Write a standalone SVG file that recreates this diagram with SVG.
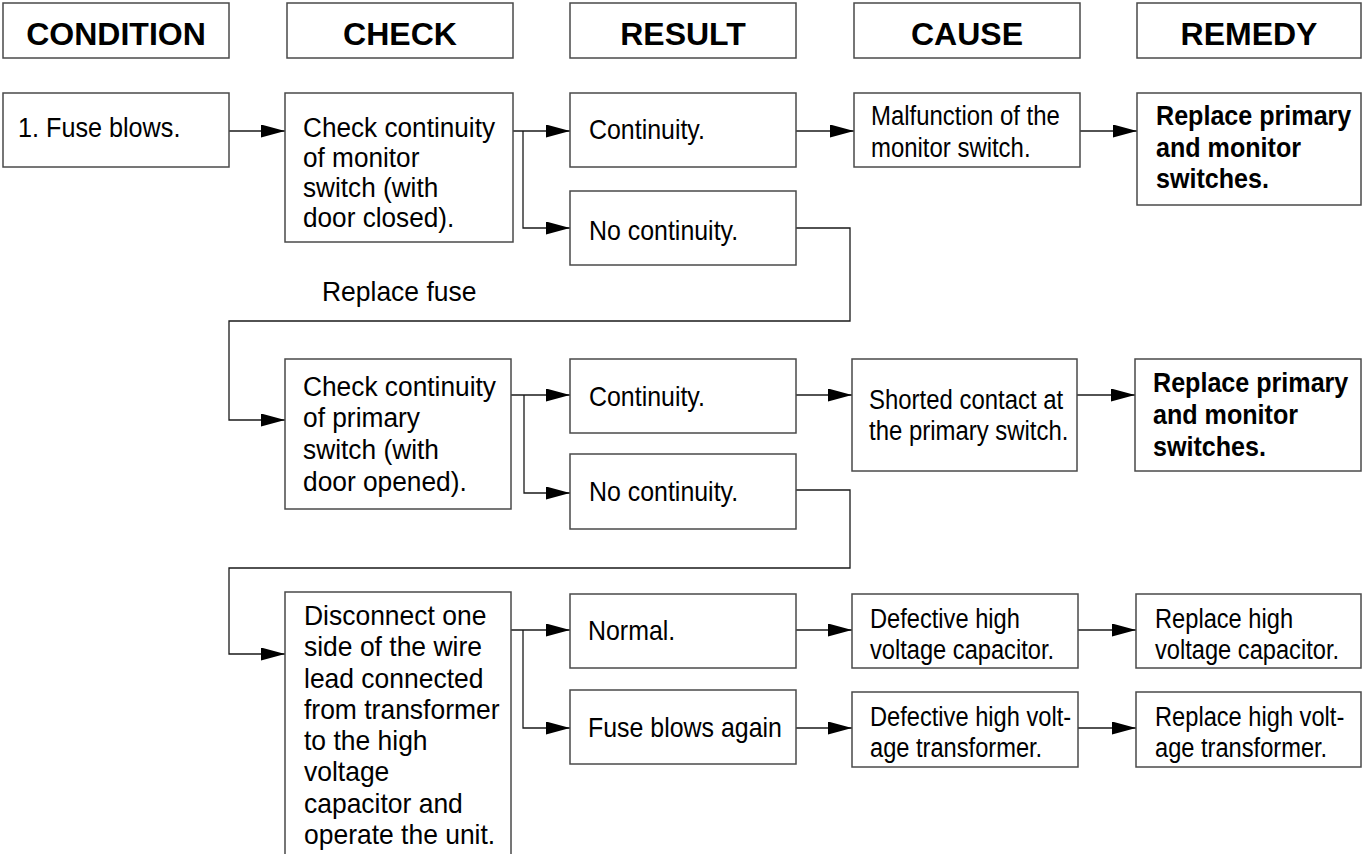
<svg xmlns="http://www.w3.org/2000/svg" width="1364" height="854" viewBox="0 0 1364 854">
<style>
.bx{fill:#fff;stroke:#4a4a4a;stroke-width:1.5}
.h{font-family:"Liberation Sans",Arial,Helvetica,sans-serif;font-size:32px;font-weight:bold;fill:#000;text-anchor:middle}
.t{font-family:"Liberation Sans",Arial,Helvetica,sans-serif;font-size:28px;fill:#000}
.b{font-family:"Liberation Sans",Arial,Helvetica,sans-serif;font-size:27px;font-weight:bold;fill:#000}
.c{fill:none;stroke:#1a1a1a;stroke-width:1.3}
.a{marker-end:url(#ah)}
</style>
<defs>
<marker id="ah" viewBox="0 0 24 13" refX="24" refY="6.5" markerWidth="24" markerHeight="13" markerUnits="userSpaceOnUse" orient="auto">
<path d="M0,0 L24,6.5 L0,13 Z" fill="#000"/>
</marker>
</defs>
<rect width="1364" height="854" fill="#fff"/>

<g id="headers">
<g id="h-condition"><rect class="bx" x="3" y="3" width="226" height="55"/><text class="h" x="116" y="45">CONDITION</text></g>
<g id="h-check"><rect class="bx" x="287" y="3" width="226" height="55"/><text class="h" x="400" y="45">CHECK</text></g>
<g id="h-result"><rect class="bx" x="570" y="3" width="226" height="55"/><text class="h" x="683" y="45">RESULT</text></g>
<g id="h-cause"><rect class="bx" x="854" y="3" width="226" height="55"/><text class="h" x="967" y="45">CAUSE</text></g>
<g id="h-remedy"><rect class="bx" x="1137" y="3" width="224" height="55"/><text class="h" x="1249" y="45">REMEDY</text></g>
</g>

<g id="connectors">
<path class="c a" d="M229,131 H285"/>
<path class="c a" d="M513,131 H570"/>
<path class="c a" d="M523,131 V228 H570"/>
<path class="c a" d="M796,131 H854"/>
<path class="c a" d="M1080,131 H1137"/>
<path class="c a" d="M796,228 H850 V321 H229 V420 H285"/>
<path class="c a" d="M511,395 H570"/>
<path class="c a" d="M524,395 V493 H570"/>
<path class="c a" d="M796,395 H852"/>
<path class="c a" d="M1077,395 H1135"/>
<path class="c a" d="M796,490 H850 V568 H229 V654 H285"/>
<path class="c a" d="M511,630 H570"/>
<path class="c a" d="M523,630 V728 H570"/>
<path class="c a" d="M796,630 H852"/>
<path class="c a" d="M1078,630 H1136"/>
<path class="c a" d="M796,728 H852"/>
<path class="c a" d="M1078,728 H1136"/>
</g>

<g id="replace-fuse-label"><text class="t" style="font-size:27px" transform="translate(322 0) scale(0.98 1)"><tspan x="0" y="301">Replace fuse</tspan></text></g>

<g id="n-fuse-blows"><rect class="bx" x="3" y="93" width="226" height="74"/><text class="t" transform="translate(18 0) scale(0.9 1)"><tspan x="0" y="137">1. Fuse blows.</tspan></text></g>

<g id="n-check-monitor"><rect class="bx" x="285" y="93" width="228" height="149"/><text class="t" style="font-size:27px" transform="translate(303 0) scale(0.97 1)"><tspan x="0" y="137">Check continuity</tspan><tspan x="0" y="167">of monitor</tspan><tspan x="0" y="197">switch (with</tspan><tspan x="0" y="227">door closed).</tspan></text></g>

<g id="n-continuity-1"><rect class="bx" x="570" y="93" width="226" height="74"/><text class="t" transform="translate(589 0) scale(0.89 1)"><tspan x="0" y="139">Continuity.</tspan></text></g>

<g id="n-nocontinuity-1"><rect class="bx" x="570" y="191" width="226" height="74"/><text class="t" transform="translate(589 0) scale(0.89 1)"><tspan x="0" y="240">No continuity.</tspan></text></g>

<g id="n-malfunction"><rect class="bx" x="854" y="93" width="226" height="74"/><text class="t" transform="translate(871 0) scale(0.855 1)"><tspan x="0" y="125">Malfunction of the</tspan><tspan x="0" y="157">monitor switch.</tspan></text></g>

<g id="n-remedy-1"><rect class="bx" x="1137" y="93" width="224" height="112"/><text class="b" transform="translate(1156 0) scale(0.93 1)"><tspan x="0" y="125">Replace primary</tspan><tspan x="0" y="157">and monitor</tspan><tspan x="0" y="188">switches.</tspan></text></g>

<g id="n-check-primary"><rect class="bx" x="285" y="359" width="226" height="150"/><text class="t" transform="translate(303 0) scale(0.94 1)"><tspan x="0" y="396">Check continuity</tspan><tspan x="0" y="427">of primary</tspan><tspan x="0" y="459">switch (with</tspan><tspan x="0" y="491">door opened).</tspan></text></g>

<g id="n-continuity-2"><rect class="bx" x="570" y="359" width="226" height="74"/><text class="t" transform="translate(589 0) scale(0.89 1)"><tspan x="0" y="406">Continuity.</tspan></text></g>

<g id="n-nocontinuity-2"><rect class="bx" x="570" y="454" width="226" height="75"/><text class="t" transform="translate(589 0) scale(0.89 1)"><tspan x="0" y="501">No continuity.</tspan></text></g>

<g id="n-shorted"><rect class="bx" x="852" y="359" width="225" height="112"/><text class="t" transform="translate(869 0) scale(0.855 1)"><tspan x="0" y="409">Shorted contact at</tspan><tspan x="0" y="440">the primary switch.</tspan></text></g>

<g id="n-remedy-2"><rect class="bx" x="1135" y="359" width="226" height="112"/><text class="b" transform="translate(1153 0) scale(0.93 1)"><tspan x="0" y="392">Replace primary</tspan><tspan x="0" y="424">and monitor</tspan><tspan x="0" y="456">switches.</tspan></text></g>

<g id="n-disconnect"><rect class="bx" x="285" y="592" width="226" height="280"/><text class="t" transform="translate(304 0) scale(0.945 1)"><tspan x="0" y="625">Disconnect one</tspan><tspan x="0" y="656">side of the wire</tspan><tspan x="0" y="688">lead connected</tspan><tspan x="0" y="719">from transformer</tspan><tspan x="0" y="750">to the high</tspan><tspan x="0" y="781">voltage</tspan><tspan x="0" y="813">capacitor and</tspan><tspan x="0" y="844">operate the unit.</tspan></text></g>

<g id="n-normal"><rect class="bx" x="570" y="594" width="226" height="74"/><text class="t" transform="translate(588 0) scale(0.89 1)"><tspan x="0" y="640">Normal.</tspan></text></g>

<g id="n-fuse-again"><rect class="bx" x="570" y="690" width="226" height="74"/><text class="t" transform="translate(588 0) scale(0.89 1)"><tspan x="0" y="737">Fuse blows again</tspan></text></g>

<g id="n-def-capacitor"><rect class="bx" x="852" y="594" width="226" height="74"/><text class="t" transform="translate(870 0) scale(0.845 1)"><tspan x="0" y="628">Defective high</tspan><tspan x="0" y="659">voltage capacitor.</tspan></text></g>

<g id="n-rep-capacitor"><rect class="bx" x="1136" y="594" width="225" height="74"/><text class="t" transform="translate(1155 0) scale(0.845 1)"><tspan x="0" y="628">Replace high</tspan><tspan x="0" y="659">voltage capacitor.</tspan></text></g>

<g id="n-def-transformer"><rect class="bx" x="852" y="692" width="226" height="75"/><text class="t" transform="translate(870 0) scale(0.845 1)"><tspan x="0" y="726">Defective high volt-</tspan><tspan x="0" y="757">age transformer.</tspan></text></g>

<g id="n-rep-transformer"><rect class="bx" x="1136" y="692" width="225" height="75"/><text class="t" transform="translate(1155 0) scale(0.845 1)"><tspan x="0" y="726">Replace high volt-</tspan><tspan x="0" y="757">age transformer.</tspan></text></g>
</svg>
